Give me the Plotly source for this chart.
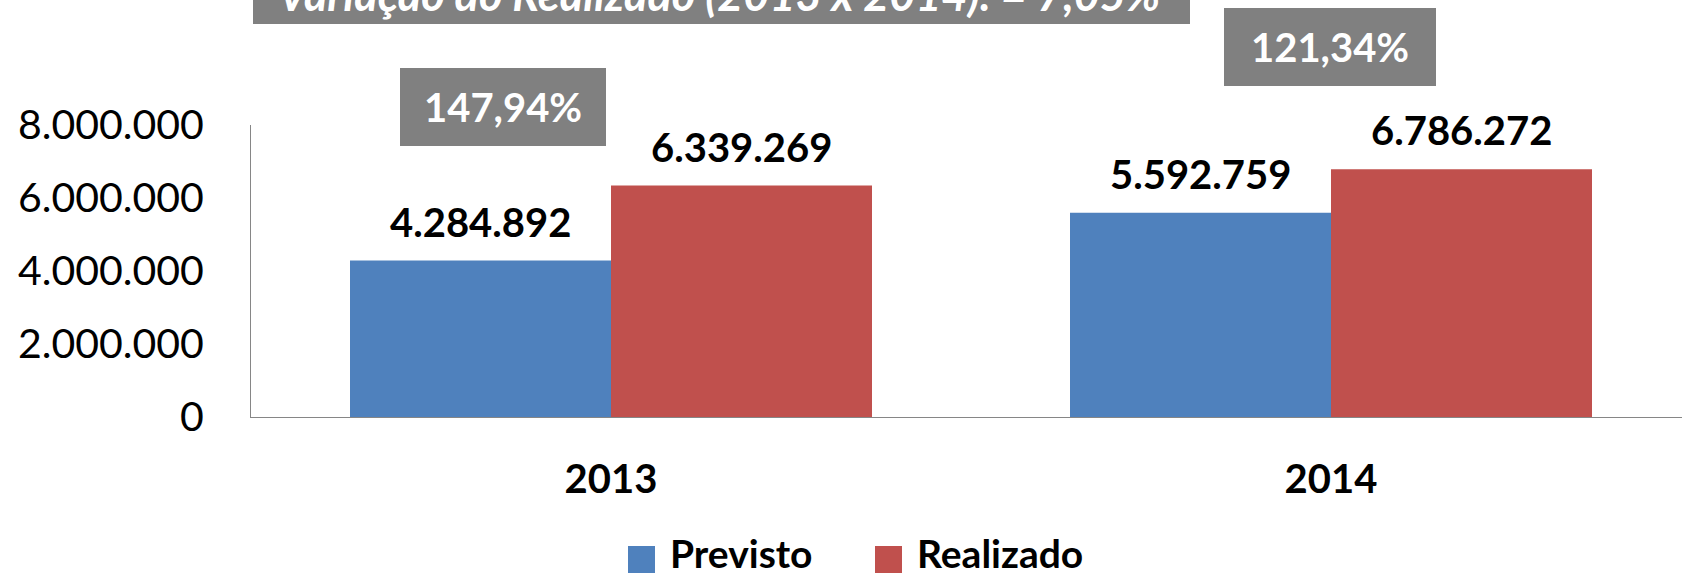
import plotly.graph_objects as go

# ---- data ----
categories = ["2013", "2014"]
previsto = [4284892, 5592759]
realizado = [6339269, 6786272]
series_names = ["Previsto", "Realizado"]
y_tick_vals = [0, 2000000, 4000000, 6000000, 8000000]
y_tick_text = ["0", "2.000.000", "4.000.000", "6.000.000", "8.000.000"]
title_text = "Variação do Realizado (2013 x 2014): = 7,05%"

# ---- styling ----
BLUE = "#4F81BD"
RED = "#C0504D"
GRAY = "#808080"
FONT = "Lato"
W, H = 1682, 577
L, R, T, B = 251, 0, 125, 160
PW = W - L - R
PH = H - T - B


def fmt_int(v):
    return f"{v:,}".replace(",", ".")


def fmt_pct(v):
    return f"{v:.2f}".replace(".", ",") + "%"


def px_x(p):
    return (p - L) / PW


def px_y(p):
    return (H - B - p) / PH


fig = go.Figure()
fig.add_trace(go.Bar(x=categories, y=previsto, name=series_names[0],
                     marker=dict(color=BLUE, line=dict(width=0)), showlegend=False))
fig.add_trace(go.Bar(x=categories, y=realizado, name=series_names[1],
                     marker=dict(color=RED, line=dict(width=0)), showlegend=False))

bargap = 0.275
bw = (1 - bargap) / 2
annotations = []
for i in range(len(categories)):
    for off, vals in ((-bw / 2, previsto), (bw / 2, realizado)):
        annotations.append(dict(
            x=i + off, y=vals[i], xref="x", yref="y", text=fmt_int(vals[i]),
            showarrow=False, yanchor="middle", yshift=39,
            font=dict(family=FONT, size=40, color="black", weight="bold")))

# percentage boxes (Realizado / Previsto)
pct_boxes = [(400, 606, 68, 146), (1224, 1436, 8, 86)]
shapes = []
for i, (x0, x1, y0, y1) in enumerate(pct_boxes):
    shapes.append(dict(type="rect", xref="paper", yref="paper",
                       x0=px_x(x0), x1=px_x(x1), y0=px_y(y1), y1=px_y(y0),
                       fillcolor=GRAY, line=dict(width=0), layer="above"))
    annotations.append(dict(
        x=px_x((x0 + x1) / 2), y=px_y((y0 + y1) / 2), xref="paper", yref="paper",
        text=fmt_pct(realizado[i] / previsto[i] * 100), showarrow=False,
        xanchor="center", yanchor="middle",
        font=dict(family=FONT, size=40, color="white", weight="bold")))

# title box (cut at top)
shapes.append(dict(type="rect", xref="paper", yref="paper",
                   x0=px_x(253), x1=px_x(1190), y0=px_y(24), y1=px_y(-60),
                   fillcolor=GRAY, line=dict(width=0), layer="above"))
annotations.append(dict(
    x=px_x(719), y=px_y(-6), xref="paper", yref="paper", text=title_text,
    showarrow=False, xanchor="center", yanchor="middle",
    font=dict(family=FONT, size=45, color="white", weight="bold", style="italic")))

# manual legend
legend_items = [(628, BLUE, series_names[0]), (875, RED, series_names[1])]
for x0, col, name in legend_items:
    shapes.append(dict(type="rect", xref="paper", yref="paper",
                       x0=px_x(x0), x1=px_x(x0 + 27), y0=px_y(573), y1=px_y(546),
                       fillcolor=col, line=dict(width=0)))
    annotations.append(dict(
        x=px_x(x0 + 40), y=px_y(553), xref="paper", yref="paper", text=name,
        showarrow=False, xanchor="left", yanchor="middle",
        font=dict(family=FONT, size=39, color="black", weight="bold")))

fig.update_layout(
    width=W, height=H,
    margin=dict(l=L, r=R, t=T, b=B, pad=0),
    paper_bgcolor="white", plot_bgcolor="white",
    barmode="group", bargap=bargap, bargroupgap=0,
    showlegend=False,
    shapes=shapes, annotations=annotations,
    xaxis=dict(type="category", range=[-0.5, -0.5 + PW / 720],
               showline=True, linecolor="#868686", linewidth=1,
               ticks="", showgrid=False, zeroline=False,
               tickfont=dict(family=FONT, size=40, color="black", weight="bold"),
               ticklabelstandoff=27),
    yaxis=dict(range=[0, 8000000], tickvals=y_tick_vals, ticktext=y_tick_text,
               showline=True, linecolor="#868686", linewidth=1,
               ticks="", showgrid=False, zeroline=False,
               tickfont=dict(family=FONT, size=41, color="black"),
               ticklabelstandoff=38),
)

fig.write_html(
    "out.html",
    config={"displayModeBar": False},
    post_script="document.body.style.margin='0';document.body.style.overflow='hidden';",
)
